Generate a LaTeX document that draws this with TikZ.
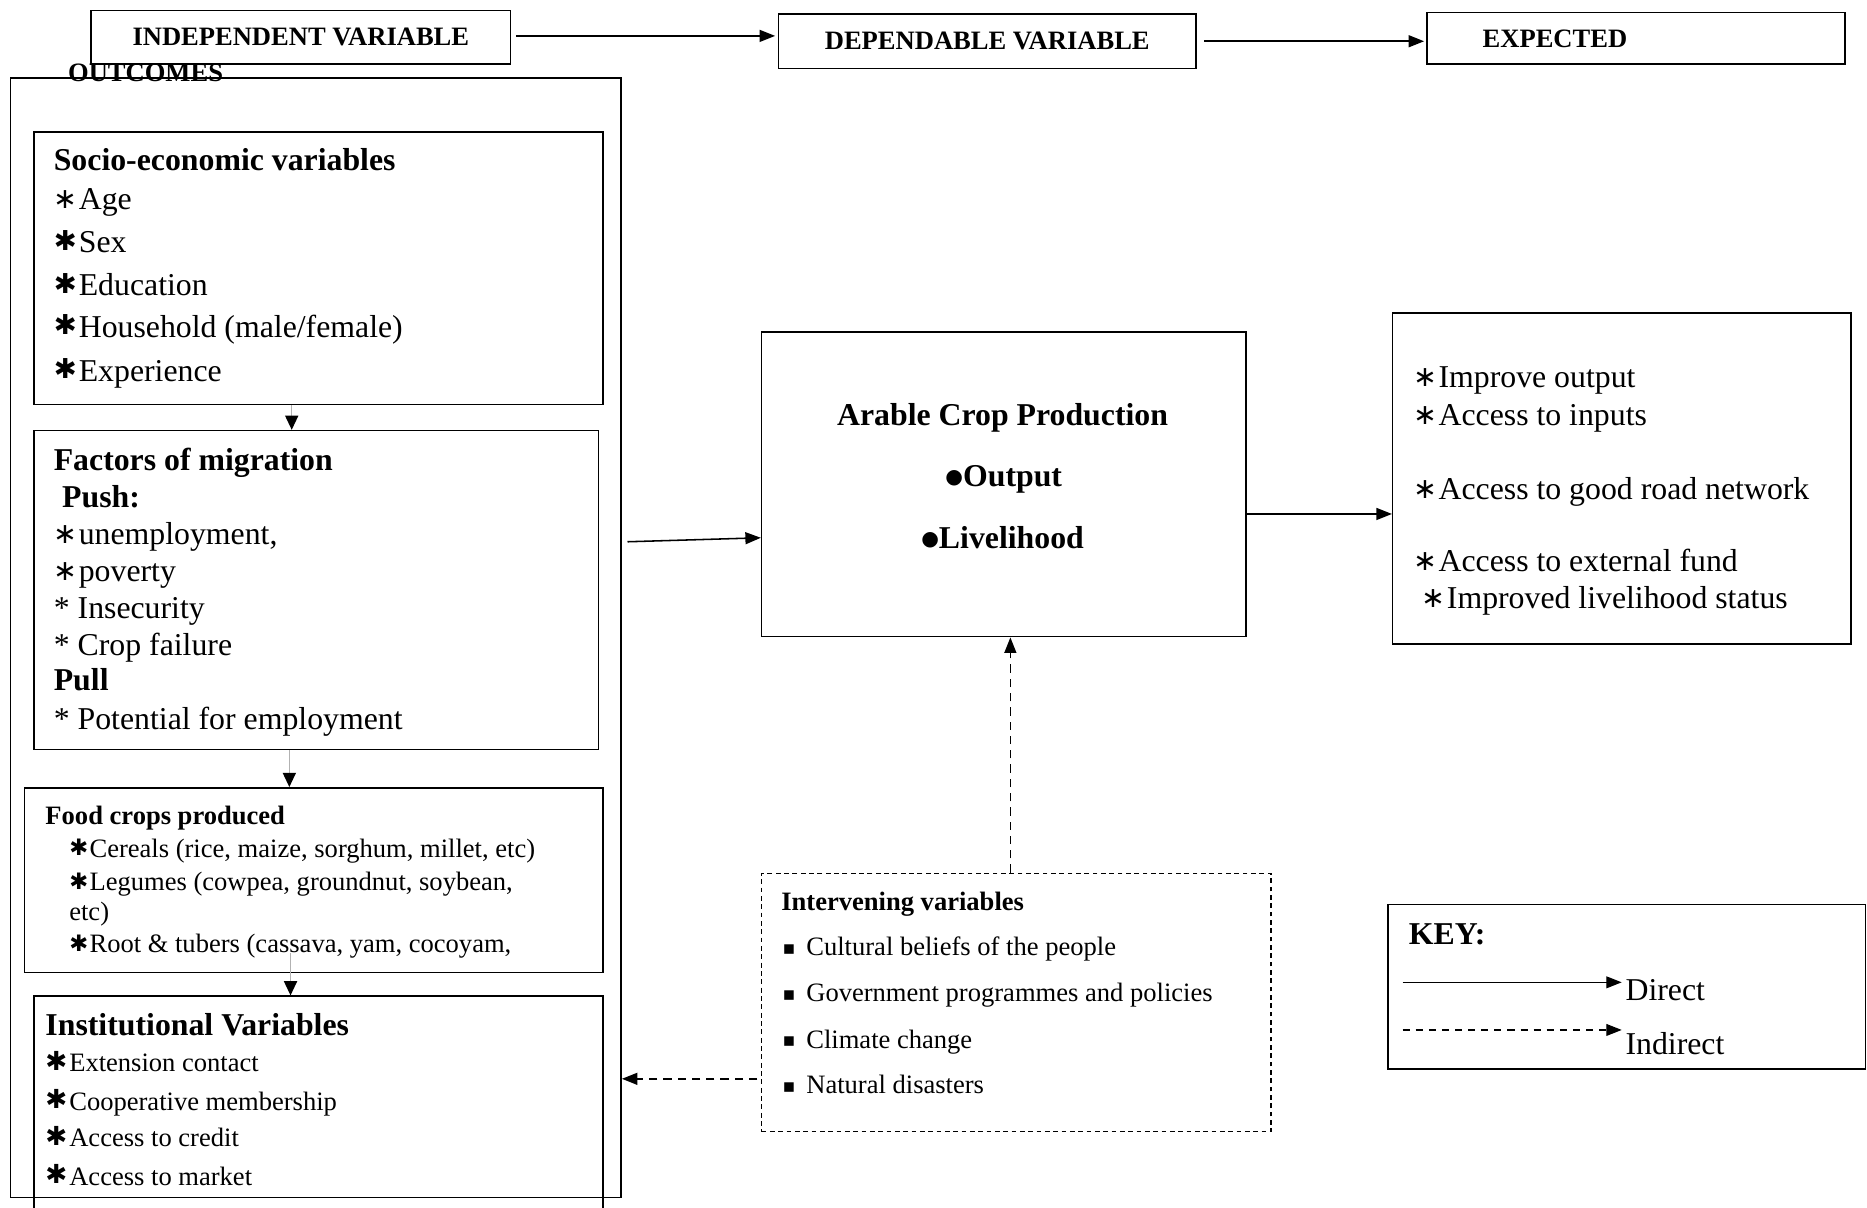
\documentclass[tikz,border=0pt]{standalone}
\usepackage{fontspec}
\setmainfont{Liberation Serif}
\newfontfamily\symf{DejaVu Sans}
\usetikzlibrary{arrows.meta}
\newcommand{\astbox}[4]{\makebox[#1][l]{\raisebox{#2}{\symf\fontsize{#3}{#3}\selectfont #4}}}
\newcommand{\la}{\astbox{21pt}{1pt}{24}{∗}}
\newcommand{\hb}{\astbox{21pt}{2pt}{23}{✱}}
\newcommand{\hs}{\astbox{17pt}{1.5pt}{19}{✱}}
\newcommand{\hi}{\astbox{20pt}{1.5pt}{22}{✱}}
\newcommand{\bul}{\raisebox{2pt}{\symf\fontsize{17}{17}\selectfont ●}}
\newcommand{\sqb}{\raisebox{1pt}{\symf\fontsize{16}{16}\selectfont ▪}}
\tikzset{
  bx/.style={draw, line width=1.3pt, inner sep=0pt, anchor=north west},
  big/.style={font=\fontsize{26.7}{32}\selectfont},
  sml/.style={font=\fontsize{22.3}{27}\selectfont},
  bigb/.style={font=\fontsize{26.7}{32}\selectfont\bfseries},
  smlb/.style={font=\fontsize{22.3}{27}\selectfont\bfseries},
  tx/.style={inner sep=0pt, anchor=mid west, yshift=-6pt},
  tc/.style={inner sep=0pt, anchor=mid, yshift=-6pt},
  arr/.style={line width=1.3pt, -{Triangle[length=13pt,width=10pt]}},
  garr/.style={line width=1.3pt, draw=gray!60, -{Triangle[length=12pt,width=11pt,black]}},
  darr/.style={line width=1.3pt, dash pattern=on 7pt off 5pt, -{Triangle[length=13pt,width=10pt]}},
  karr/.style={line width=1pt, -{Triangle[length=13pt,width=10pt]}},
  kdarr/.style={line width=1pt, dash pattern=on 6pt off 5pt, -{Triangle[length=13pt,width=10pt]}}
}
\begin{document}
\begin{tikzpicture}[x=1pt,y=-1pt]
\useasboundingbox (0,0) rectangle (1568,1014);
% top row
\node[bx,smlb,minimum width=352pt,minimum height=45pt] (iv) at (76,8) {\raisebox{-2pt}{INDEPENDENT VARIABLE}};
\node[bx,smlb,minimum width=351pt,minimum height=46pt] (dv) at (653,11) {DEPENDABLE VARIABLE};
\node[bx,minimum width=351pt,minimum height=43pt] (ex) at (1198,10) {};
\node[tx,smlb] (exT) at (1245,32) {EXPECTED};
\draw[arr] ([xshift=4pt,yshift=1pt]iv.east) -- ([xshift=-2pt,yshift=1pt]iv.east -| dv.west);
\draw[arr] ([xshift=6pt]dv.east) -- ([xshift=-2pt]dv.east -| ex.west);
% outer box
\node[bx,minimum width=513pt,minimum height=940pt] (outer) at (8,65) {};
\node[tx,smlb] (outc) at (57,60) {OUTCOMES};
% socio-economic
\node[bx,minimum width=478pt,minimum height=229pt] (socio) at (28,110) {};
\node[tx,bigb] (s0) at (45,135) {Socio-economic variables};
\node[tx,big] (s1) at (45,168) {\la Age};
\node[tx,big] (s2) at (45,204) {\hb Sex};
\node[tx,big] (s3) at (45,240) {\hb Education};
\node[tx,big] (s4) at (45,275) {\hb Household (male/female)};
\node[tx,big] (s5) at (45,312) {\hb Experience};
% factors of migration
\node[bx,minimum width=474pt,minimum height=268pt] (fac) at (28,361) {};
\node[tx,bigb] (f0) at (45,387) {Factors of migration};
\node[tx,bigb] (f1) at (52,418) {Push:};
\node[tx,big] (f2) at (45,449) {\la unemployment,};
\node[tx,big] (f3) at (45,480) {\la poverty};
\node[tx,big] (f4) at (45,511) {* Insecurity};
\node[tx,big] (f5) at (45,542) {* Crop failure};
\node[tx,bigb] (f6) at (45,572) {Pull};
\node[tx,big] (f7) at (45,604) {* Potential for employment};
% food crops
\node[bx,minimum width=486pt,minimum height=155pt] (food) at (20,661) {};
\node[tx,smlb] (c0) at (38,684) {Food crops produced};
\node[tx,sml] (c1) at (58,712) {\hs Cereals (rice, maize, sorghum, millet, etc)};
\node[tx,sml] (c2) at (58,740) {\hs Legumes (cowpea, groundnut, soybean,};
\node[tx,sml] (c3) at (58,765) {etc)};
\node[tx,sml] (c4) at (58,792) {\hs Root \& tubers (cassava, yam, cocoyam,};
% institutional
\node[bx,minimum width=478pt,minimum height=220pt] (inst) at (28,836) {};
\node[tx,bigb] (n0) at (38,861) {Institutional Variables};
\node[tx,sml] (n1) at (38,892) {\hi Extension contact};
\node[tx,sml] (n2) at (38,924) {\hi Cooperative membership};
\node[tx,sml] (n3) at (38,955) {\hi Access to credit};
\node[tx,sml] (n4) at (38,987) {\hi Access to market};
% column arrows
\coordinate (colA) at (245,0);
\coordinate (colB) at (243,0);
\coordinate (fin) at (244,800);
\draw[garr] (socio.south -| colA) -- (fac.north -| colA);
\draw[garr] (fac.south -| colB) -- (food.north -| colB);
\draw[garr] (fin) -- (inst.north -| fin);
% arable crop production
\node[bx,minimum width=407pt,minimum height=256pt] (arable) at (639,278) {};
\node[tc,bigb] (a0) at (842,349) {Arable Crop Production};
\node[tc,bigb] (a1) at (843,400) {\bul Output};
\node[tc,bigb] (a2) at (842,452) {\bul Livelihood};
% expected outcomes
\node[bx,minimum width=385pt,minimum height=278pt] (expbox) at (1169,262) {};
\node[tx,big] (e1) at (1187,317) {\la Improve output};
\node[tx,big] (e2) at (1187,349) {\la Access to inputs};
\node[tx,big] (e3) at (1187,411) {\la Access to good road network};
\node[tx,big] (e4) at (1187,472) {\la Access to external fund};
\node[tx,big] (e5) at (1194,503) {\la Improved livelihood status};
% intervening
\node[bx,line width=1.1pt,dash pattern=on 4pt off 3pt,minimum width=428pt,minimum height=217pt] (inter) at (639,733) {};
\node[tx,smlb] (i0) at (656,756) {Intervening variables};
\node[tx,sml] (q1) at (657,794) {\sqb};
\node[tx,sml] (v1) at (677,794) {Cultural beliefs of the people};
\node[tx,sml] (q2) at (657,833) {\sqb};
\node[tx,sml] (v2) at (677,833) {Government programmes and policies};
\node[tx,sml] (q3) at (657,872) {\sqb};
\node[tx,sml] (v3) at (677,872) {Climate change};
\node[tx,sml] (q4) at (657,910) {\sqb};
\node[tx,sml] (v4) at (677,910) {Natural disasters};
% connectors
\coordinate (fout) at (527,455);
\draw[arr] (fout) -- ([yshift=-45pt]arable.west);
\draw[arr] ([yshift=-25pt]arable.east) -- ([yshift=-25pt]arable.east -| expbox.west);
\draw[darr] ([xshift=-5pt]inter.north) -- ([xshift=-5pt]inter.north |- arable.south);
\draw[darr] ([yshift=-64pt,xshift=-3pt]inter.west) -- ([yshift=-64pt]inter.west -| outer.east);
% key
\node[bx,minimum width=401pt,minimum height=138pt] (key) at (1165,759) {};
\node[tx,bigb] (keyT) at (1183,785) {KEY:};
\coordinate (d1) at (1178,825);
\coordinate (d2) at (1362,825);
\draw[karr] (d1) -- (d2);
\node[tx,big] (dT) at (1365,832) {Direct};
\coordinate (k1) at (1178,865);
\coordinate (k2) at (1362,865);
\draw[kdarr] (k1) -- (k2);
\node[tx,big] (kT) at (1365,877) {Indirect};
\end{tikzpicture}
\end{document}
